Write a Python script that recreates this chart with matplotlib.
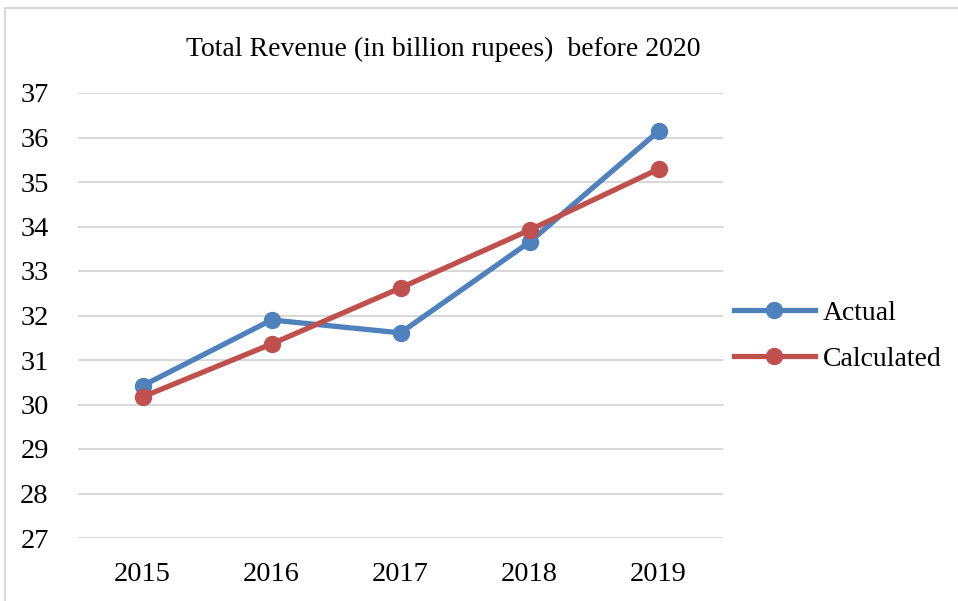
import matplotlib
matplotlib.use("Agg")
import matplotlib.pyplot as plt
from matplotlib.patches import Rectangle

years = ["2015", "2016", "2017", "2018", "2019"]
actual = [30.42, 31.90, 31.61, 33.65, 36.14]
calculated = [30.17, 31.36, 32.62, 33.92, 35.29]
yticks = [27, 28, 29, 30, 31, 32, 33, 34, 35, 36, 37]

plt.rcParams['font.family'] = ['Liberation Serif', 'DejaVu Serif']

fig = plt.figure(figsize=(9.58, 6.01), dpi=100)
fig.patches.append(Rectangle((5/958, -0.1), 1.2, 1 - 8/601 + 0.1, transform=fig.transFigure,
                             fill=False, edgecolor='#d9d9d9', linewidth=1.5))

ax = fig.add_axes([78/958, 1 - 538/601, (723 - 78)/958, (538 - 93)/601])
x = list(range(len(years)))
blue = '#4F81BD'
red = '#C0504D'
ax.plot(x, actual, color=blue, linewidth=3.8, marker='o', markersize=11.5, label='Actual', zorder=3)
ax.plot(x, calculated, color=red, linewidth=3.8, marker='o', markersize=11.5, label='Calculated', zorder=4)

ax.set_xlim(-0.5, len(years) - 0.5)
ax.set_ylim(27, 37)
ax.set_yticks(yticks)
ax.set_xticks(x)
ax.set_xticklabels(years)
ax.grid(axis='y', color='#d9d9d9', linewidth=1.5)
ax.set_axisbelow(True)
for s in ax.spines.values():
    s.set_visible(False)
ax.tick_params(axis='both', length=0, labelsize=20.5, colors='black')
ax.tick_params(axis='y', pad=21)
ax.tick_params(axis='x', pad=17)

fig.text(443/958, 1 - 49/601, "Total Revenue (in billion rupees)  before 2020", ha='center', va='center', fontsize=20)

leg = ax.legend(loc='center left', bbox_to_anchor=(734/958, 1 - 336/601), bbox_transform=fig.transFigure,
                frameon=False, fontsize=20, handlelength=2.9, labelspacing=0.75, handletextpad=0.3,
                borderaxespad=0, borderpad=0)

fig.savefig("out.png", dpi=100)
